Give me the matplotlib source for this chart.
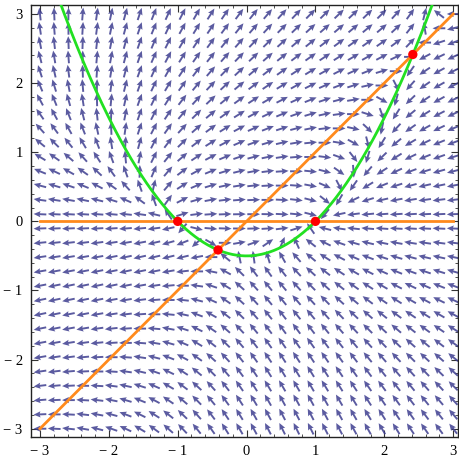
import matplotlib
matplotlib.use("Agg")
import matplotlib.pyplot as plt
import numpy as np

# grid of the vector field
grid_lo, grid_hi, grid_n = -3, 3, 30

# dx/dt = 1 + 2y - x^2 ,  dy/dt = y (y - x)
parabola_coef = [0.5, 0.0, -0.5]     # green nullcline y = (x^2 - 1)/2
line_slopes = [0.0, 1.0]             # orange nullclines y = 0, y = x
line_x = [-3, 3]

# equilibria
fixed_x = [-1.0, 1.0, -0.414, 2.414]
fixed_y = [0.0, 0.0, -0.414, 2.414]

ticks = [-3, -2, -1, 0, 1, 2, 3]
tick_labels = ["\u2212 3", "\u2212 2", "\u2212 1", "0", "1", "2", "3"]

fig = plt.figure(figsize=(4.6, 4.66), dpi=100)
ax = fig.add_axes([31/460, 1 - 437/466, 427/460, 432/466])

g = np.linspace(grid_lo, grid_hi, grid_n)
X, Y = np.meshgrid(g, g)
U = 1 + 2*Y - X**2
V = Y*(Y - X)
n = np.hypot(U, V)
n[n == 0] = 1
L = 0.185
ax.quiver(X, Y, U/n*L, V/n*L, angles='xy', scale_units='xy', scale=1,
          pivot='middle', color='#3e3e90', alpha=0.85, width=0.0045,
          headwidth=3.2, headlength=3.6, headaxislength=3.2, zorder=2)

xs = np.linspace(-3, 3, 400)
ax.plot(xs, np.polyval(parabola_coef, xs), color='#22e022', lw=2.0, zorder=3)
for m in line_slopes:
    ax.plot(line_x, [m*line_x[0], m*line_x[1]], color='#ff8a1c', lw=2.0, zorder=3)

ax.scatter(fixed_x, fixed_y, s=45, color='#ff0000', zorder=4, edgecolors='none')

ax.set_xlim(-3.13, 3.07)
ax.set_ylim(-3.12, 3.13)
ax.set_xticks(ticks)
ax.set_yticks(ticks)
ax.set_xticklabels(tick_labels, family='Liberation Serif', fontsize=10.5)
ax.set_yticklabels(tick_labels, family='Liberation Serif', fontsize=10.5)
ax.set_xticks(np.arange(-3, 3.01, 0.2), minor=True)
ax.set_yticks(np.arange(-3, 3.01, 0.2), minor=True)
ax.tick_params(which='both', direction='in', top=True, right=True, color='#333333')
ax.tick_params(which='major', length=5, width=0.8, pad=6)
ax.tick_params(which='minor', length=2.5, width=0.6)
for s in ax.spines.values():
    s.set_linewidth(1.0)
    s.set_color('#222222')

fig.savefig("out.png", dpi=100)
